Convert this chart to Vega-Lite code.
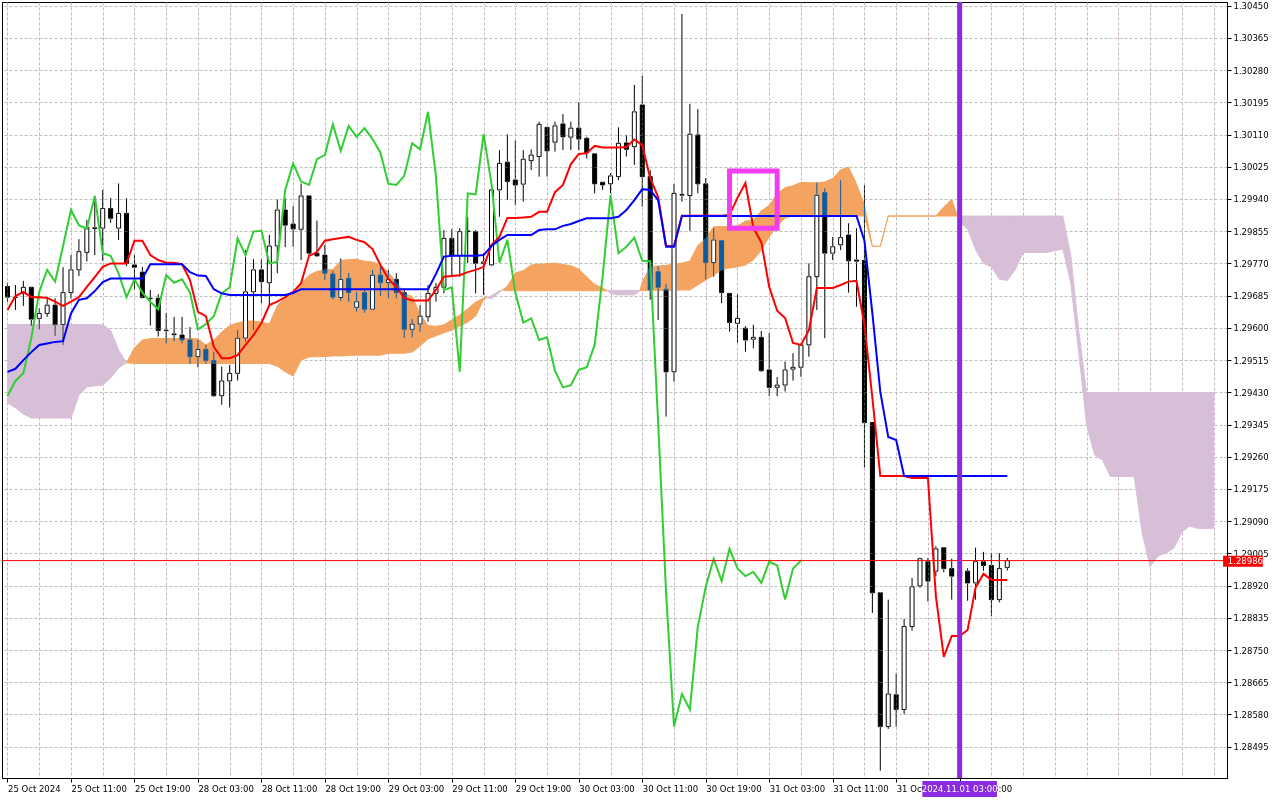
{
  "$schema": "https://vega.github.io/schema/vega-lite/v6.json",
  "description": "GBPUSD H1 candles with Ichimoku Kinko Hyo, 25 Oct - 1 Nov 2024",
  "width": 1225,
  "height": 776,
  "autosize": "none",
  "padding": {"left": 2, "top": 2, "right": 53, "bottom": 22},
  "background": "white",
  "config": {"view": {"stroke": "#000000", "strokeWidth": 1}, "font": "DejaVu Sans"},
  "datasets": {
    "k": [
      {"i":0,"o":1.29709,"h":1.29718,"l":1.29669,"c":1.29681},
      {"i":1,"o":1.29681,"h":1.29713,"l":1.29647,"c":1.29680},
      {"i":2,"o":1.29691,"h":1.29724,"l":1.29658,"c":1.29707},
      {"i":3,"o":1.29707,"h":1.29708,"l":1.29605,"c":1.29623},
      {"i":4,"o":1.29625,"h":1.29652,"l":1.29596,"c":1.29638},
      {"i":5,"o":1.29638,"h":1.29682,"l":1.29629,"c":1.29660},
      {"i":6,"o":1.29660,"h":1.29678,"l":1.29579,"c":1.29608},
      {"i":7,"o":1.29609,"h":1.29760,"l":1.29555,"c":1.29693},
      {"i":8,"o":1.29693,"h":1.29792,"l":1.29678,"c":1.29753},
      {"i":9,"o":1.29753,"h":1.29834,"l":1.29737,"c":1.29801},
      {"i":10,"o":1.29799,"h":1.29885,"l":1.29775,"c":1.29865},
      {"i":11,"o":1.29862,"h":1.29942,"l":1.29792,"c":1.29864},
      {"i":12,"o":1.29863,"h":1.29964,"l":1.29777,"c":1.29915},
      {"i":13,"o":1.29915,"h":1.29943,"l":1.29877,"c":1.29889},
      {"i":14,"o":1.29863,"h":1.29981,"l":1.29832,"c":1.29902},
      {"i":15,"o":1.29902,"h":1.29942,"l":1.29763,"c":1.29770},
      {"i":16,"o":1.29766,"h":1.29792,"l":1.29700,"c":1.29760},
      {"i":17,"o":1.29747,"h":1.29761,"l":1.29678,"c":1.29680},
      {"i":18,"o":1.29678,"h":1.29700,"l":1.29606,"c":1.29677},
      {"i":19,"o":1.29678,"h":1.29689,"l":1.29577,"c":1.29593},
      {"i":20,"o":1.29593,"h":1.29639,"l":1.29559,"c":1.29594},
      {"i":21,"o":1.29584,"h":1.29629,"l":1.29565,"c":1.29582},
      {"i":22,"o":1.29581,"h":1.29629,"l":1.29560,"c":1.29568},
      {"i":23,"o":1.29568,"h":1.29602,"l":1.29505,"c":1.29524},
      {"i":24,"o":1.29524,"h":1.29568,"l":1.29496,"c":1.29543},
      {"i":25,"o":1.29543,"h":1.29555,"l":1.29506,"c":1.29514},
      {"i":26,"o":1.29514,"h":1.29537,"l":1.29418,"c":1.29421},
      {"i":27,"o":1.29421,"h":1.29498,"l":1.29397,"c":1.29460},
      {"i":28,"o":1.29460,"h":1.29502,"l":1.29390,"c":1.29480},
      {"i":29,"o":1.29480,"h":1.29594,"l":1.29461,"c":1.29573},
      {"i":30,"o":1.29573,"h":1.29805,"l":1.29564,"c":1.29695},
      {"i":31,"o":1.29695,"h":1.29781,"l":1.29594,"c":1.29753},
      {"i":32,"o":1.29753,"h":1.29781,"l":1.29665,"c":1.29722},
      {"i":33,"o":1.29719,"h":1.29845,"l":1.29656,"c":1.29816},
      {"i":34,"o":1.29816,"h":1.29939,"l":1.29744,"c":1.29911},
      {"i":35,"o":1.29911,"h":1.29942,"l":1.29813,"c":1.29871},
      {"i":36,"o":1.29874,"h":1.29921,"l":1.29814,"c":1.29861},
      {"i":37,"o":1.29860,"h":1.29981,"l":1.29779,"c":1.29948},
      {"i":38,"o":1.29948,"h":1.29950,"l":1.29788,"c":1.29797},
      {"i":39,"o":1.29797,"h":1.29883,"l":1.29788,"c":1.29790},
      {"i":40,"o":1.29792,"h":1.29819,"l":1.29726,"c":1.29744},
      {"i":41,"o":1.29742,"h":1.29751,"l":1.29675,"c":1.29681},
      {"i":42,"o":1.29680,"h":1.29783,"l":1.29671,"c":1.29728},
      {"i":43,"o":1.29731,"h":1.29745,"l":1.29669,"c":1.29693},
      {"i":44,"o":1.29654,"h":1.29695,"l":1.29643,"c":1.29669},
      {"i":45,"o":1.29693,"h":1.29704,"l":1.29640,"c":1.29649},
      {"i":46,"o":1.29649,"h":1.29753,"l":1.29647,"c":1.29739},
      {"i":47,"o":1.29739,"h":1.29761,"l":1.29684,"c":1.29719},
      {"i":48,"o":1.29719,"h":1.29753,"l":1.29678,"c":1.29728},
      {"i":49,"o":1.29728,"h":1.29744,"l":1.29678,"c":1.29693},
      {"i":50,"o":1.29693,"h":1.29704,"l":1.29573,"c":1.29596},
      {"i":51,"o":1.29596,"h":1.29623,"l":1.29575,"c":1.29610},
      {"i":52,"o":1.29610,"h":1.29660,"l":1.29590,"c":1.29631},
      {"i":53,"o":1.29629,"h":1.29713,"l":1.29616,"c":1.29691},
      {"i":54,"o":1.29691,"h":1.29718,"l":1.29669,"c":1.29707},
      {"i":55,"o":1.29707,"h":1.29858,"l":1.29691,"c":1.29836},
      {"i":56,"o":1.29836,"h":1.29860,"l":1.29735,"c":1.29792},
      {"i":57,"o":1.29790,"h":1.29863,"l":1.29735,"c":1.29854},
      {"i":58,"o":1.29854,"h":1.29893,"l":1.29771,"c":1.29856},
      {"i":59,"o":1.29854,"h":1.29858,"l":1.29691,"c":1.29770},
      {"i":60,"o":1.29770,"h":1.29797,"l":1.29687,"c":1.29774},
      {"i":61,"o":1.29766,"h":1.29990,"l":1.29763,"c":1.29964},
      {"i":62,"o":1.29964,"h":1.30069,"l":1.29893,"c":1.30034},
      {"i":63,"o":1.30037,"h":1.30111,"l":1.29937,"c":1.29986},
      {"i":64,"o":1.29990,"h":1.30094,"l":1.29924,"c":1.29977},
      {"i":65,"o":1.29979,"h":1.30069,"l":1.29933,"c":1.30045},
      {"i":66,"o":1.30041,"h":1.30071,"l":1.30016,"c":1.30056},
      {"i":67,"o":1.30052,"h":1.30144,"l":1.29999,"c":1.30137},
      {"i":68,"o":1.30129,"h":1.30130,"l":1.29999,"c":1.30067},
      {"i":69,"o":1.30090,"h":1.30144,"l":1.30065,"c":1.30133},
      {"i":70,"o":1.30138,"h":1.30164,"l":1.30069,"c":1.30104},
      {"i":71,"o":1.30103,"h":1.30144,"l":1.30069,"c":1.30127},
      {"i":72,"o":1.30127,"h":1.30195,"l":1.30069,"c":1.30098},
      {"i":73,"o":1.30100,"h":1.30104,"l":1.30047,"c":1.30062},
      {"i":74,"o":1.30059,"h":1.30059,"l":1.29955,"c":1.29980},
      {"i":75,"o":1.29984,"h":1.29985,"l":1.29964,"c":1.29977},
      {"i":76,"o":1.29980,"h":1.30008,"l":1.29955,"c":1.30001},
      {"i":77,"o":1.29999,"h":1.30129,"l":1.29990,"c":1.30087},
      {"i":78,"o":1.30088,"h":1.30109,"l":1.30052,"c":1.30071},
      {"i":79,"o":1.30078,"h":1.30241,"l":1.30030,"c":1.30170},
      {"i":80,"o":1.30188,"h":1.30265,"l":1.29920,"c":1.29999},
      {"i":81,"o":1.29999,"h":1.30016,"l":1.29674,"c":1.29700},
      {"i":82,"o":1.29748,"h":1.29763,"l":1.29621,"c":1.29707},
      {"i":83,"o":1.29702,"h":1.29716,"l":1.29366,"c":1.29484},
      {"i":84,"o":1.29484,"h":1.29980,"l":1.29458,"c":1.29955},
      {"i":85,"o":1.29950,"h":1.30428,"l":1.29933,"c":1.29952},
      {"i":86,"o":1.29949,"h":1.30191,"l":1.29856,"c":1.30111},
      {"i":87,"o":1.30109,"h":1.30177,"l":1.29955,"c":1.29980},
      {"i":88,"o":1.29980,"h":1.29995,"l":1.29728,"c":1.29772},
      {"i":89,"o":1.29772,"h":1.29863,"l":1.29735,"c":1.29832},
      {"i":90,"o":1.29830,"h":1.29832,"l":1.29665,"c":1.29693},
      {"i":91,"o":1.29691,"h":1.29692,"l":1.29590,"c":1.29614},
      {"i":92,"o":1.29612,"h":1.29689,"l":1.29561,"c":1.29625},
      {"i":93,"o":1.29599,"h":1.29605,"l":1.29537,"c":1.29568},
      {"i":94,"o":1.29570,"h":1.29608,"l":1.29546,"c":1.29575},
      {"i":95,"o":1.29575,"h":1.29592,"l":1.29484,"c":1.29487},
      {"i":96,"o":1.29489,"h":1.29587,"l":1.29420,"c":1.29443},
      {"i":97,"o":1.29443,"h":1.29470,"l":1.29420,"c":1.29449},
      {"i":98,"o":1.29449,"h":1.29511,"l":1.29432,"c":1.29489},
      {"i":99,"o":1.29491,"h":1.29533,"l":1.29461,"c":1.29496},
      {"i":100,"o":1.29496,"h":1.29559,"l":1.29471,"c":1.29555},
      {"i":101,"o":1.29555,"h":1.29770,"l":1.29524,"c":1.29735},
      {"i":102,"o":1.29735,"h":1.29983,"l":1.29647,"c":1.29950},
      {"i":103,"o":1.29957,"h":1.29968,"l":1.29573,"c":1.29797},
      {"i":104,"o":1.29797,"h":1.29840,"l":1.29779,"c":1.29814},
      {"i":105,"o":1.29819,"h":1.29990,"l":1.29805,"c":1.29838},
      {"i":106,"o":1.29845,"h":1.29876,"l":1.29693,"c":1.29777},
      {"i":107,"o":1.29779,"h":1.29863,"l":1.29656,"c":1.29776},
      {"i":108,"o":1.29778,"h":1.29976,"l":1.29232,"c":1.29350},
      {"i":109,"o":1.29350,"h":1.29350,"l":1.28848,"c":1.28901},
      {"i":110,"o":1.28901,"h":1.28903,"l":1.28432,"c":1.28548},
      {"i":111,"o":1.28548,"h":1.28883,"l":1.28542,"c":1.28634},
      {"i":112,"o":1.28632,"h":1.28688,"l":1.28548,"c":1.28593},
      {"i":113,"o":1.28593,"h":1.28832,"l":1.28581,"c":1.28812},
      {"i":114,"o":1.28812,"h":1.28940,"l":1.28801,"c":1.28917},
      {"i":115,"o":1.28919,"h":1.28994,"l":1.28914,"c":1.28991},
      {"i":116,"o":1.28983,"h":1.28993,"l":1.28878,"c":1.28932},
      {"i":117,"o":1.28958,"h":1.29024,"l":1.28945,"c":1.29017},
      {"i":118,"o":1.29020,"h":1.29022,"l":1.28955,"c":1.28965},
      {"i":119,"o":1.28965,"h":1.28991,"l":1.28883,"c":1.28945},
      {"i":120,"o":1.28945,"h":1.28982,"l":1.28908,"c":1.28956},
      {"i":121,"o":1.28958,"h":1.28966,"l":1.28880,"c":1.28927},
      {"i":122,"o":1.28927,"h":1.29020,"l":1.28883,"c":1.28983},
      {"i":123,"o":1.28983,"h":1.29009,"l":1.28959,"c":1.28973},
      {"i":124,"o":1.28973,"h":1.29006,"l":1.28839,"c":1.28883},
      {"i":125,"o":1.28883,"h":1.29006,"l":1.28876,"c":1.28965},
      {"i":126,"o":1.28968,"h":1.28993,"l":1.28960,"c":1.28986}
    ],
    "ind": [
      {"i":0,"t":1.29647,"k":1.29484,"g":1.29421},
      {"i":1,"t":1.29684,"k":1.29492,"g":1.29460},
      {"i":2,"t":1.29695,"k":1.29515,"g":1.29480},
      {"i":3,"t":1.29681,"k":1.29536,"g":1.29573},
      {"i":4,"t":1.29681,"k":1.29555,"g":1.29695},
      {"i":5,"t":1.29679,"k":1.29559,"g":1.29753},
      {"i":6,"t":1.29669,"k":1.29563,"g":1.29722},
      {"i":7,"t":1.29658,"k":1.29565,"g":1.29816},
      {"i":8,"t":1.29669,"k":1.29638,"g":1.29911},
      {"i":9,"t":1.29681,"k":1.29674,"g":1.29871},
      {"i":10,"t":1.29708,"k":1.29678,"g":1.29861},
      {"i":11,"t":1.29734,"k":1.29697,"g":1.29948},
      {"i":12,"t":1.29761,"k":1.29721,"g":1.29797},
      {"i":13,"t":1.29770,"k":1.29730,"g":1.29790},
      {"i":14,"t":1.29770,"k":1.29730,"g":1.29744},
      {"i":15,"t":1.29770,"k":1.29730,"g":1.29681},
      {"i":16,"t":1.29830,"k":1.29730,"g":1.29728},
      {"i":17,"t":1.29830,"k":1.29730,"g":1.29693},
      {"i":18,"t":1.29792,"k":1.29768,"g":1.29669},
      {"i":19,"t":1.29779,"k":1.29768,"g":1.29649},
      {"i":20,"t":1.29772,"k":1.29768,"g":1.29739},
      {"i":21,"t":1.29772,"k":1.29768,"g":1.29719},
      {"i":22,"t":1.29768,"k":1.29768,"g":1.29728},
      {"i":23,"t":1.29726,"k":1.29747,"g":1.29693},
      {"i":24,"t":1.29642,"k":1.29738,"g":1.29596},
      {"i":25,"t":1.29631,"k":1.29737,"g":1.29610},
      {"i":26,"t":1.29550,"k":1.29702,"g":1.29631},
      {"i":27,"t":1.29520,"k":1.29691,"g":1.29691},
      {"i":28,"t":1.29520,"k":1.29687,"g":1.29707},
      {"i":29,"t":1.29528,"k":1.29687,"g":1.29836},
      {"i":30,"t":1.29555,"k":1.29687,"g":1.29792},
      {"i":31,"t":1.29581,"k":1.29687,"g":1.29854},
      {"i":32,"t":1.29613,"k":1.29687,"g":1.29856},
      {"i":33,"t":1.29660,"k":1.29687,"g":1.29770},
      {"i":34,"t":1.29669,"k":1.29687,"g":1.29774},
      {"i":35,"t":1.29681,"k":1.29687,"g":1.29964},
      {"i":36,"t":1.29695,"k":1.29692,"g":1.30034},
      {"i":37,"t":1.29718,"k":1.29702,"g":1.29986},
      {"i":38,"t":1.29790,"k":1.29702,"g":1.29977},
      {"i":39,"t":1.29800,"k":1.29702,"g":1.30045},
      {"i":40,"t":1.29830,"k":1.29702,"g":1.30056},
      {"i":41,"t":1.29834,"k":1.29702,"g":1.30137},
      {"i":42,"t":1.29837,"k":1.29702,"g":1.30067},
      {"i":43,"t":1.29840,"k":1.29702,"g":1.30133},
      {"i":44,"t":1.29832,"k":1.29702,"g":1.30104},
      {"i":45,"t":1.29826,"k":1.29702,"g":1.30127},
      {"i":46,"t":1.29808,"k":1.29702,"g":1.30098},
      {"i":47,"t":1.29766,"k":1.29702,"g":1.30062},
      {"i":48,"t":1.29729,"k":1.29702,"g":1.29980},
      {"i":49,"t":1.29708,"k":1.29702,"g":1.29977},
      {"i":50,"t":1.29679,"k":1.29702,"g":1.30001},
      {"i":51,"t":1.29672,"k":1.29702,"g":1.30087},
      {"i":52,"t":1.29672,"k":1.29702,"g":1.30071},
      {"i":53,"t":1.29672,"k":1.29702,"g":1.30170},
      {"i":54,"t":1.29700,"k":1.29742,"g":1.29999},
      {"i":55,"t":1.29735,"k":1.29788,"g":1.29700},
      {"i":56,"t":1.29737,"k":1.29790,"g":1.29707},
      {"i":57,"t":1.29739,"k":1.29790,"g":1.29484},
      {"i":58,"t":1.29747,"k":1.29790,"g":1.29955},
      {"i":59,"t":1.29753,"k":1.29790,"g":1.29952},
      {"i":60,"t":1.29761,"k":1.29792,"g":1.30111},
      {"i":61,"t":1.29819,"k":1.29816,"g":1.29980},
      {"i":62,"t":1.29840,"k":1.29832,"g":1.29772},
      {"i":63,"t":1.29890,"k":1.29845,"g":1.29832},
      {"i":64,"t":1.29890,"k":1.29845,"g":1.29693},
      {"i":65,"t":1.29891,"k":1.29845,"g":1.29614},
      {"i":66,"t":1.29893,"k":1.29845,"g":1.29625},
      {"i":67,"t":1.29906,"k":1.29858,"g":1.29568},
      {"i":68,"t":1.29906,"k":1.29860,"g":1.29575},
      {"i":69,"t":1.29958,"k":1.29860,"g":1.29487},
      {"i":70,"t":1.29977,"k":1.29869,"g":1.29443},
      {"i":71,"t":1.30032,"k":1.29874,"g":1.29449},
      {"i":72,"t":1.30059,"k":1.29882,"g":1.29489},
      {"i":73,"t":1.30061,"k":1.29889,"g":1.29496},
      {"i":74,"t":1.30080,"k":1.29889,"g":1.29555},
      {"i":75,"t":1.30076,"k":1.29889,"g":1.29735},
      {"i":76,"t":1.30076,"k":1.29889,"g":1.29950},
      {"i":77,"t":1.30076,"k":1.29893,"g":1.29797},
      {"i":78,"t":1.30077,"k":1.29911,"g":1.29814},
      {"i":79,"t":1.30097,"k":1.29937,"g":1.29838},
      {"i":80,"t":1.30082,"k":1.29966,"g":1.29777},
      {"i":81,"t":1.29995,"k":1.29964,"g":1.29776},
      {"i":82,"t":1.29945,"k":1.29937,"g":1.29350},
      {"i":83,"t":1.29816,"k":1.29814,"g":1.28901},
      {"i":84,"t":1.29816,"k":1.29814,"g":1.28548},
      {"i":85,"t":1.29896,"k":1.29895,"g":1.28634},
      {"i":86,"t":1.29896,"k":1.29895,"g":1.28593},
      {"i":87,"t":1.29896,"k":1.29895,"g":1.28812},
      {"i":88,"t":1.29896,"k":1.29895,"g":1.28917},
      {"i":89,"t":1.29896,"k":1.29895,"g":1.28991},
      {"i":90,"t":1.29896,"k":1.29895,"g":1.28932},
      {"i":91,"t":1.29898,"k":1.29895,"g":1.29017},
      {"i":92,"t":1.29943,"k":1.29895,"g":1.28965},
      {"i":93,"t":1.29982,"k":1.29895,"g":1.28945},
      {"i":94,"t":1.29864,"k":1.29895,"g":1.28956},
      {"i":95,"t":1.29826,"k":1.29895,"g":1.28927},
      {"i":96,"t":1.29708,"k":1.29895,"g":1.28983},
      {"i":97,"t":1.29645,"k":1.29895,"g":1.28973},
      {"i":98,"t":1.29626,"k":1.29895,"g":1.28883},
      {"i":99,"t":1.29560,"k":1.29895,"g":1.28965},
      {"i":100,"t":1.29555,"k":1.29895,"g":1.28986},
      {"i":101,"t":1.29594,"k":1.29895},
      {"i":102,"t":1.29705,"k":1.29895},
      {"i":103,"t":1.29705,"k":1.29895},
      {"i":104,"t":1.29705,"k":1.29895},
      {"i":105,"t":1.29713,"k":1.29895},
      {"i":106,"t":1.29722,"k":1.29895},
      {"i":107,"t":1.29724,"k":1.29895},
      {"i":108,"t":1.29608,"k":1.29830},
      {"i":109,"t":1.29415,"k":1.29638},
      {"i":110,"t":1.29209,"k":1.29431},
      {"i":111,"t":1.29209,"k":1.29312},
      {"i":112,"t":1.29209,"k":1.29304},
      {"i":113,"t":1.29209,"k":1.29209},
      {"i":114,"t":1.29204,"k":1.29209},
      {"i":115,"t":1.29204,"k":1.29209},
      {"i":116,"t":1.29204,"k":1.29209},
      {"i":117,"t":1.28893,"k":1.29209},
      {"i":118,"t":1.28732,"k":1.29209},
      {"i":119,"t":1.28787,"k":1.29209},
      {"i":120,"t":1.28787,"k":1.29209},
      {"i":121,"t":1.28803,"k":1.29209},
      {"i":122,"t":1.28914,"k":1.29209},
      {"i":123,"t":1.28951,"k":1.29209},
      {"i":124,"t":1.28935,"k":1.29209},
      {"i":125,"t":1.28935,"k":1.29209},
      {"i":126,"t":1.28935,"k":1.29209}
    ],
    "cl": [
      {"i":0,"a":1.29402,"b":1.29609,"s":1,"d":"dn"},
      {"i":1,"a":1.29389,"b":1.29609,"s":1,"d":"dn"},
      {"i":2,"a":1.29373,"b":1.29609,"s":1,"d":"dn"},
      {"i":3,"a":1.29362,"b":1.29609,"s":1,"d":"dn"},
      {"i":4,"a":1.29362,"b":1.29609,"s":1,"d":"dn"},
      {"i":5,"a":1.29362,"b":1.29609,"s":1,"d":"dn"},
      {"i":6,"a":1.29362,"b":1.29609,"s":1,"d":"dn"},
      {"i":7,"a":1.29362,"b":1.29609,"s":1,"d":"dn"},
      {"i":8,"a":1.29362,"b":1.29609,"s":1,"d":"dn"},
      {"i":9,"a":1.29423,"b":1.29609,"s":1,"d":"dn"},
      {"i":10,"a":1.29444,"b":1.29609,"s":1,"d":"dn"},
      {"i":11,"a":1.29447,"b":1.29609,"s":1,"d":"dn"},
      {"i":12,"a":1.29449,"b":1.29608,"s":1,"d":"dn"},
      {"i":13,"a":1.29468,"b":1.29594,"s":1,"d":"dn"},
      {"i":14,"a":1.29494,"b":1.29542,"s":1,"d":"dn"},
      {"i":15,"a":1.29508,"b":1.29508,"s":1,"d":"dn"},
      {"i":15,"a":1.29508,"b":1.29508,"s":2,"d":"up"},
      {"i":16,"a":1.29547,"b":1.29506,"s":2,"d":"up"},
      {"i":17,"a":1.29568,"b":1.29506,"s":2,"d":"up"},
      {"i":18,"a":1.29572,"b":1.29506,"s":2,"d":"up"},
      {"i":19,"a":1.29572,"b":1.29506,"s":2,"d":"up"},
      {"i":20,"a":1.29572,"b":1.29506,"s":2,"d":"up"},
      {"i":21,"a":1.29572,"b":1.29506,"s":2,"d":"up"},
      {"i":22,"a":1.29572,"b":1.29506,"s":2,"d":"up"},
      {"i":23,"a":1.29572,"b":1.29506,"s":2,"d":"up"},
      {"i":24,"a":1.29571,"b":1.29506,"s":2,"d":"up"},
      {"i":25,"a":1.29555,"b":1.29506,"s":2,"d":"up"},
      {"i":26,"a":1.29568,"b":1.29506,"s":2,"d":"up"},
      {"i":27,"a":1.29589,"b":1.29506,"s":2,"d":"up"},
      {"i":28,"a":1.29606,"b":1.29506,"s":2,"d":"up"},
      {"i":29,"a":1.29613,"b":1.29506,"s":2,"d":"up"},
      {"i":30,"a":1.29618,"b":1.29506,"s":2,"d":"up"},
      {"i":31,"a":1.29618,"b":1.29506,"s":2,"d":"up"},
      {"i":32,"a":1.29615,"b":1.29506,"s":2,"d":"up"},
      {"i":33,"a":1.29610,"b":1.29506,"s":2,"d":"up"},
      {"i":34,"a":1.29658,"b":1.29499,"s":2,"d":"up"},
      {"i":35,"a":1.29679,"b":1.29484,"s":2,"d":"up"},
      {"i":36,"a":1.29692,"b":1.29473,"s":2,"d":"up"},
      {"i":37,"a":1.29716,"b":1.29515,"s":2,"d":"up"},
      {"i":38,"a":1.29739,"b":1.29523,"s":2,"d":"up"},
      {"i":39,"a":1.29749,"b":1.29524,"s":2,"d":"up"},
      {"i":40,"a":1.29753,"b":1.29524,"s":2,"d":"up"},
      {"i":41,"a":1.29754,"b":1.29526,"s":2,"d":"up"},
      {"i":42,"a":1.29778,"b":1.29526,"s":2,"d":"up"},
      {"i":43,"a":1.29780,"b":1.29527,"s":2,"d":"up"},
      {"i":44,"a":1.29781,"b":1.29528,"s":2,"d":"up"},
      {"i":45,"a":1.29776,"b":1.29528,"s":2,"d":"up"},
      {"i":46,"a":1.29774,"b":1.29528,"s":2,"d":"up"},
      {"i":47,"a":1.29766,"b":1.29528,"s":2,"d":"up"},
      {"i":48,"a":1.29747,"b":1.29533,"s":2,"d":"up"},
      {"i":49,"a":1.29721,"b":1.29533,"s":2,"d":"up"},
      {"i":50,"a":1.29691,"b":1.29533,"s":2,"d":"up"},
      {"i":51,"a":1.29683,"b":1.29536,"s":2,"d":"up"},
      {"i":52,"a":1.29637,"b":1.29552,"s":2,"d":"up"},
      {"i":53,"a":1.29606,"b":1.29571,"s":2,"d":"up"},
      {"i":54,"a":1.29604,"b":1.29579,"s":2,"d":"up"},
      {"i":55,"a":1.29608,"b":1.29587,"s":2,"d":"up"},
      {"i":56,"a":1.29621,"b":1.29594,"s":2,"d":"up"},
      {"i":57,"a":1.29634,"b":1.29605,"s":2,"d":"up"},
      {"i":58,"a":1.29650,"b":1.29615,"s":2,"d":"up"},
      {"i":59,"a":1.29668,"b":1.29631,"s":2,"d":"up"},
      {"i":60,"a":1.29679,"b":1.29674,"s":2,"d":"up"},
      {"i":60.4,"a":1.29680,"b":1.29680,"s":2,"d":"up"},
      {"i":60.4,"a":1.29680,"b":1.29680,"s":3,"d":"dn"},
      {"i":61,"a":1.29677,"b":1.29685,"s":3,"d":"dn"},
      {"i":62,"a":1.29693,"b":1.29698,"s":3,"d":"dn"},
      {"i":62.4,"a":1.29700,"b":1.29700,"s":3,"d":"dn"},
      {"i":62.4,"a":1.29700,"b":1.29700,"s":4,"d":"up"},
      {"i":63,"a":1.29710,"b":1.29698,"s":4,"d":"up"},
      {"i":64,"a":1.29745,"b":1.29698,"s":4,"d":"up"},
      {"i":65,"a":1.29751,"b":1.29698,"s":4,"d":"up"},
      {"i":66,"a":1.29766,"b":1.29698,"s":4,"d":"up"},
      {"i":67,"a":1.29768,"b":1.29698,"s":4,"d":"up"},
      {"i":68,"a":1.29769,"b":1.29698,"s":4,"d":"up"},
      {"i":69,"a":1.29771,"b":1.29698,"s":4,"d":"up"},
      {"i":70,"a":1.29767,"b":1.29698,"s":4,"d":"up"},
      {"i":71,"a":1.29764,"b":1.29698,"s":4,"d":"up"},
      {"i":72,"a":1.29755,"b":1.29698,"s":4,"d":"up"},
      {"i":73,"a":1.29734,"b":1.29698,"s":4,"d":"up"},
      {"i":74,"a":1.29715,"b":1.29698,"s":4,"d":"up"},
      {"i":75,"a":1.29705,"b":1.29698,"s":4,"d":"up"},
      {"i":75.6,"a":1.29698,"b":1.29698,"s":4,"d":"up"},
      {"i":75.6,"a":1.29698,"b":1.29698,"s":5,"d":"dn"},
      {"i":76,"a":1.29690,"b":1.29699,"s":5,"d":"dn"},
      {"i":77,"a":1.29687,"b":1.29699,"s":5,"d":"dn"},
      {"i":78,"a":1.29687,"b":1.29699,"s":5,"d":"dn"},
      {"i":79,"a":1.29687,"b":1.29699,"s":5,"d":"dn"},
      {"i":79.7,"a":1.29698,"b":1.29698,"s":5,"d":"dn"},
      {"i":79.7,"a":1.29698,"b":1.29698,"s":6,"d":"up"},
      {"i":80,"a":1.29721,"b":1.29698,"s":6,"d":"up"},
      {"i":81,"a":1.29761,"b":1.29699,"s":6,"d":"up"},
      {"i":82,"a":1.29763,"b":1.29699,"s":6,"d":"up"},
      {"i":83,"a":1.29765,"b":1.29699,"s":6,"d":"up"},
      {"i":84,"a":1.29768,"b":1.29699,"s":6,"d":"up"},
      {"i":85,"a":1.29771,"b":1.29700,"s":6,"d":"up"},
      {"i":86,"a":1.29776,"b":1.29700,"s":6,"d":"up"},
      {"i":87,"a":1.29817,"b":1.29713,"s":6,"d":"up"},
      {"i":88,"a":1.29836,"b":1.29726,"s":6,"d":"up"},
      {"i":89,"a":1.29867,"b":1.29739,"s":6,"d":"up"},
      {"i":90,"a":1.29867,"b":1.29753,"s":6,"d":"up"},
      {"i":91,"a":1.29868,"b":1.29758,"s":6,"d":"up"},
      {"i":92,"a":1.29869,"b":1.29761,"s":6,"d":"up"},
      {"i":93,"a":1.29882,"b":1.29766,"s":6,"d":"up"},
      {"i":94,"a":1.29883,"b":1.29779,"s":6,"d":"up"},
      {"i":95,"a":1.29909,"b":1.29805,"s":6,"d":"up"},
      {"i":96,"a":1.29923,"b":1.29840,"s":6,"d":"up"},
      {"i":97,"a":1.29953,"b":1.29869,"s":6,"d":"up"},
      {"i":98,"a":1.29970,"b":1.29890,"s":6,"d":"up"},
      {"i":99,"a":1.29975,"b":1.29895,"s":6,"d":"up"},
      {"i":100,"a":1.29984,"b":1.29895,"s":6,"d":"up"},
      {"i":101,"a":1.29983,"b":1.29895,"s":6,"d":"up"},
      {"i":102,"a":1.29983,"b":1.29895,"s":6,"d":"up"},
      {"i":103,"a":1.29985,"b":1.29895,"s":6,"d":"up"},
      {"i":104,"a":1.29994,"b":1.29895,"s":6,"d":"up"},
      {"i":105,"a":1.30017,"b":1.29895,"s":6,"d":"up"},
      {"i":106,"a":1.30024,"b":1.29895,"s":6,"d":"up"},
      {"i":107,"a":1.29980,"b":1.29895,"s":6,"d":"up"},
      {"i":108,"a":1.29924,"b":1.29895,"s":6,"d":"up"},
      {"i":109,"a":1.29815,"b":1.29815,"s":6,"d":"up"},
      {"i":110,"a":1.29815,"b":1.29815,"s":6,"d":"up"},
      {"i":111,"a":1.29895,"b":1.29895,"s":6,"d":"up"},
      {"i":112,"a":1.29895,"b":1.29895,"s":6,"d":"up"},
      {"i":113,"a":1.29895,"b":1.29895,"s":6,"d":"up"},
      {"i":114,"a":1.29895,"b":1.29895,"s":6,"d":"up"},
      {"i":115,"a":1.29895,"b":1.29895,"s":6,"d":"up"},
      {"i":116,"a":1.29895,"b":1.29895,"s":6,"d":"up"},
      {"i":117,"a":1.29895,"b":1.29895,"s":6,"d":"up"},
      {"i":118,"a":1.29919,"b":1.29895,"s":6,"d":"up"},
      {"i":119,"a":1.29939,"b":1.29895,"s":6,"d":"up"},
      {"i":119.7,"a":1.29895,"b":1.29895,"s":6,"d":"up"},
      {"i":119.7,"a":1.29895,"b":1.29895,"s":7,"d":"dn"},
      {"i":120,"a":1.29879,"b":1.29895,"s":7,"d":"dn"},
      {"i":121,"a":1.29861,"b":1.29895,"s":7,"d":"dn"},
      {"i":122,"a":1.29807,"b":1.29895,"s":7,"d":"dn"},
      {"i":123,"a":1.29770,"b":1.29895,"s":7,"d":"dn"},
      {"i":124,"a":1.29761,"b":1.29895,"s":7,"d":"dn"},
      {"i":125,"a":1.29728,"b":1.29895,"s":7,"d":"dn"},
      {"i":126,"a":1.29725,"b":1.29895,"s":7,"d":"dn"},
      {"i":127,"a":1.29753,"b":1.29895,"s":7,"d":"dn"},
      {"i":128,"a":1.29799,"b":1.29895,"s":7,"d":"dn"},
      {"i":129,"a":1.29799,"b":1.29895,"s":7,"d":"dn"},
      {"i":130,"a":1.29799,"b":1.29895,"s":7,"d":"dn"},
      {"i":131,"a":1.29799,"b":1.29895,"s":7,"d":"dn"},
      {"i":132,"a":1.29804,"b":1.29895,"s":7,"d":"dn"},
      {"i":133,"a":1.29808,"b":1.29895,"s":7,"d":"dn"},
      {"i":134,"a":1.29719,"b":1.29792,"s":7,"d":"dn"},
      {"i":135,"a":1.29536,"b":1.29594,"s":7,"d":"dn"},
      {"i":136,"a":1.29344,"b":1.29429,"s":7,"d":"dn"},
      {"i":137,"a":1.29265,"b":1.29429,"s":7,"d":"dn"},
      {"i":138,"a":1.29251,"b":1.29429,"s":7,"d":"dn"},
      {"i":139,"a":1.29208,"b":1.29429,"s":7,"d":"dn"},
      {"i":140,"a":1.29208,"b":1.29429,"s":7,"d":"dn"},
      {"i":141,"a":1.29208,"b":1.29429,"s":7,"d":"dn"},
      {"i":142,"a":1.29208,"b":1.29429,"s":7,"d":"dn"},
      {"i":143,"a":1.29059,"b":1.29429,"s":7,"d":"dn"},
      {"i":144,"a":1.28970,"b":1.29429,"s":7,"d":"dn"},
      {"i":145,"a":1.28998,"b":1.29429,"s":7,"d":"dn"},
      {"i":146,"a":1.29006,"b":1.29429,"s":7,"d":"dn"},
      {"i":147,"a":1.29019,"b":1.29429,"s":7,"d":"dn"},
      {"i":148,"a":1.29061,"b":1.29429,"s":7,"d":"dn"},
      {"i":149,"a":1.29077,"b":1.29429,"s":7,"d":"dn"},
      {"i":150,"a":1.29071,"b":1.29429,"s":7,"d":"dn"},
      {"i":151,"a":1.29071,"b":1.29429,"s":7,"d":"dn"},
      {"i":152,"a":1.29071,"b":1.29429,"s":7,"d":"dn"}
    ]
  },
  "layer": [
    {
      "data": {"name": "cl"},
      "mark": {"type": "area", "strokeWidth": 1, "interpolate": "linear"},
      "encoding": {
        "x": {
          "field": "i", "type": "quantitative",
          "scale": {"domain": [-0.0625, 153.0625], "nice": false, "zero": false},
          "axis": {
            "title": null,
            "values": [0,4,8,12,16,20,24,28,32,36,40,44,48,52,56,60,64,68,72,76,80,84,88,92,96,100,104,108,112,116,120,124,128,132,136,140,144,148,152],
            "tickCount": 100,
            "grid": true, "gridColor": "#c8b2c8", "gridDash": [3, 2], "gridWidth": 1,
            "domain": true, "domainColor": "#000000",
            "tickSize": 4,
            "tickColor": {"condition": {"test": "datum.value % 8 === 0 && datum.value <= 120", "value": "#000000"}, "value": "transparent"},
            "labelExpr": "datum.value % 8 === 0 && datum.value <= 120 ? ['25 Oct 2024','25 Oct 11:00','25 Oct 19:00','28 Oct 03:00','28 Oct 11:00','28 Oct 19:00','29 Oct 03:00','29 Oct 11:00','29 Oct 19:00','30 Oct 03:00','30 Oct 11:00','30 Oct 19:00','31 Oct 03:00','31 Oct 11:00','31 Oct 19:00','1 Nov 03:00'][datum.value / 8] : ''",
            "labelAlign": "left", "labelBaseline": "top", "labelPadding": 2,
            "labelFont": "DejaVu Sans", "labelFontSize": 8.5, "labelColor": "#000000",
            "labelOverlap": false, "labelFlush": false, "labelBound": false
          }
        },
        "y": {
          "field": "a", "type": "quantitative", "stack": null,
          "scale": {"domain": [1.284124, 1.304597], "nice": false, "zero": false},
          "axis": {
            "title": null, "orient": "right",
            "values": [1.3045,1.30365,1.3028,1.30195,1.3011,1.30025,1.2994,1.29855,1.2977,1.29685,1.296,1.29515,1.2943,1.29345,1.2926,1.29175,1.2909,1.29005,1.2892,1.28835,1.2875,1.28665,1.2858,1.28495],
            "tickCount": 100,
            "format": ".5f",
            "grid": true, "gridColor": "#b6c2b6", "gridDash": [3, 2], "gridWidth": 1,
            "domain": true, "domainColor": "#000000",
            "tickSize": 4, "tickColor": "#000000",
            "labelAlign": "left", "labelBaseline": "middle", "labelPadding": 2,
            "labelFont": "DejaVu Sans", "labelFontSize": 8.5, "labelColor": "#000000",
            "labelOverlap": false, "labelFlush": false, "labelBound": false
          }
        },
        "y2": {"field": "b"},
        "color": {"field": "d", "type": "nominal", "scale": {"domain": ["up", "dn"], "range": ["#f4a460", "#d8bfd8"]}, "legend": null},
        "stroke": {"field": "d", "type": "nominal", "scale": {"domain": ["up", "dn"], "range": ["#f4a460", "#d8bfd8"]}, "legend": null},
        "detail": {"field": "s", "type": "nominal"}
      }
    },
    {
      "data": {"name": "k"},
      "transform": [{"filter": "datum.c < datum.o"}],
      "mark": {"type": "rule", "color": "#ffffff", "strokeWidth": 1, "blend": "difference"},
      "encoding": {
        "x": {"field": "i", "type": "quantitative", "scale": {"domain": [-0.0625, 153.0625], "nice": false, "zero": false}, "axis": {"title": null}},
        "y": {"field": "h", "type": "quantitative", "scale": {"domain": [1.284124, 1.304597], "nice": false, "zero": false}, "axis": {"title": null, "orient": "right"}},
        "y2": {"field": "o"}
      }
    },
    {
      "data": {"name": "k"},
      "transform": [{"filter": "datum.c < datum.o"}],
      "mark": {"type": "rule", "color": "#ffffff", "strokeWidth": 1, "blend": "difference"},
      "encoding": {
        "x": {"field": "i", "type": "quantitative", "scale": {"domain": [-0.0625, 153.0625], "nice": false, "zero": false}, "axis": {"title": null}},
        "y": {"field": "c", "type": "quantitative", "scale": {"domain": [1.284124, 1.304597], "nice": false, "zero": false}, "axis": {"title": null, "orient": "right"}},
        "y2": {"field": "l"}
      }
    },
    {
      "data": {"name": "k"},
      "transform": [{"filter": "datum.c < datum.o"}],
      "mark": {"type": "bar", "width": 4, "fill": "#ffffff", "stroke": "#ffffff", "strokeWidth": 1, "blend": "difference"},
      "encoding": {
        "x": {"field": "i", "type": "quantitative", "scale": {"domain": [-0.0625, 153.0625], "nice": false, "zero": false}, "axis": {"title": null}},
        "y": {"field": "o", "type": "quantitative", "scale": {"domain": [1.284124, 1.304597], "nice": false, "zero": false}, "axis": {"title": null, "orient": "right"}},
        "y2": {"field": "c"}
      }
    },
    {
      "data": {"name": "k"},
      "transform": [{"filter": "datum.c >= datum.o"}],
      "mark": {"type": "rule", "color": "#ffffff", "strokeWidth": 1, "blend": "difference"},
      "encoding": {
        "x": {"field": "i", "type": "quantitative", "scale": {"domain": [-0.0625, 153.0625], "nice": false, "zero": false}, "axis": {"title": null}},
        "y": {"field": "h", "type": "quantitative", "scale": {"domain": [1.284124, 1.304597], "nice": false, "zero": false}, "axis": {"title": null, "orient": "right"}},
        "y2": {"field": "c"}
      }
    },
    {
      "data": {"name": "k"},
      "transform": [{"filter": "datum.c >= datum.o"}],
      "mark": {"type": "rule", "color": "#ffffff", "strokeWidth": 1, "blend": "difference"},
      "encoding": {
        "x": {"field": "i", "type": "quantitative", "scale": {"domain": [-0.0625, 153.0625], "nice": false, "zero": false}, "axis": {"title": null}},
        "y": {"field": "o", "type": "quantitative", "scale": {"domain": [1.284124, 1.304597], "nice": false, "zero": false}, "axis": {"title": null, "orient": "right"}},
        "y2": {"field": "l"}
      }
    },
    {
      "data": {"name": "k"},
      "transform": [{"filter": "datum.c >= datum.o"}],
      "mark": {"type": "bar", "width": 4, "fill": "#ffffff", "strokeWidth": 0},
      "encoding": {
        "x": {"field": "i", "type": "quantitative", "scale": {"domain": [-0.0625, 153.0625], "nice": false, "zero": false}, "axis": {"title": null}},
        "y": {"field": "o", "type": "quantitative", "scale": {"domain": [1.284124, 1.304597], "nice": false, "zero": false}, "axis": {"title": null, "orient": "right"}},
        "y2": {"field": "c"}
      }
    },
    {
      "data": {"name": "k"},
      "transform": [{"filter": "datum.c >= datum.o"}],
      "mark": {"type": "bar", "width": 4, "fill": "#ffffff", "fillOpacity": 0, "stroke": "#ffffff", "strokeWidth": 1, "blend": "difference"},
      "encoding": {
        "x": {"field": "i", "type": "quantitative", "scale": {"domain": [-0.0625, 153.0625], "nice": false, "zero": false}, "axis": {"title": null}},
        "y": {"field": "o", "type": "quantitative", "scale": {"domain": [1.284124, 1.304597], "nice": false, "zero": false}, "axis": {"title": null, "orient": "right"}},
        "y2": {"field": "c"}
      }
    },
    {
      "data": {"name": "ind"},
      "mark": {"type": "line", "color": "#32cd32", "strokeWidth": 2, "interpolate": "linear"},
      "encoding": {
        "x": {"field": "i", "type": "quantitative", "scale": {"domain": [-0.0625, 153.0625], "nice": false, "zero": false}, "axis": {"title": null}},
        "y": {"field": "g", "type": "quantitative", "scale": {"domain": [1.284124, 1.304597], "nice": false, "zero": false}, "axis": {"title": null, "orient": "right"}}
      }
    },
    {
      "data": {"name": "ind"},
      "mark": {"type": "line", "color": "#ff0000", "strokeWidth": 2, "interpolate": "linear"},
      "encoding": {
        "x": {"field": "i", "type": "quantitative", "scale": {"domain": [-0.0625, 153.0625], "nice": false, "zero": false}, "axis": {"title": null}},
        "y": {"field": "t", "type": "quantitative", "scale": {"domain": [1.284124, 1.304597], "nice": false, "zero": false}, "axis": {"title": null, "orient": "right"}}
      }
    },
    {
      "data": {"name": "ind"},
      "mark": {"type": "line", "color": "#0000ff", "strokeWidth": 2, "interpolate": "linear"},
      "encoding": {
        "x": {"field": "i", "type": "quantitative", "scale": {"domain": [-0.0625, 153.0625], "nice": false, "zero": false}, "axis": {"title": null}},
        "y": {"field": "k", "type": "quantitative", "scale": {"domain": [1.284124, 1.304597], "nice": false, "zero": false}, "axis": {"title": null, "orient": "right"}}
      }
    },
    {
      "data": {"values": [{}]},
      "mark": {"type": "rule", "color": "#ff0000", "strokeWidth": 1},
      "encoding": {
        "y": {"datum": 1.28986, "type": "quantitative", "scale": {"domain": [1.284124, 1.304597], "nice": false, "zero": false}, "axis": {"title": null, "orient": "right"}}
      }
    },
    {
      "data": {"values": [{}]},
      "mark": {"type": "rule", "color": "#8a2be2", "strokeWidth": 5},
      "encoding": {
        "x": {"datum": 120, "type": "quantitative", "scale": {"domain": [-0.0625, 153.0625], "nice": false, "zero": false}, "axis": {"title": null}}
      }
    },
    {
      "data": {"values": [{}]},
      "mark": {"type": "rect", "fillOpacity": 0, "stroke": "#f23cf2", "strokeWidth": 5},
      "encoding": {
        "x": {"datum": 91.0, "type": "quantitative", "scale": {"domain": [-0.0625, 153.0625], "nice": false, "zero": false}, "axis": {"title": null}},
        "x2": {"datum": 97.0},
        "y": {"datum": 1.30014, "type": "quantitative", "scale": {"domain": [1.284124, 1.304597], "nice": false, "zero": false}, "axis": {"title": null, "orient": "right"}},
        "y2": {"datum": 1.29863}
      }
    },
    {
      "data": {"values": [{}]},
      "mark": {"type": "rect", "fill": "#8a2be2"},
      "encoding": {
        "x": {"datum": 115.3, "type": "quantitative", "scale": {"domain": [-0.0625, 153.0625], "nice": false, "zero": false}, "axis": {"title": null}},
        "x2": {"datum": 124.7},
        "y": {"datum": 1.284045, "type": "quantitative", "scale": {"domain": [1.284124, 1.304597], "nice": false, "zero": false}, "axis": {"title": null, "orient": "right"}},
        "y2": {"datum": 1.28362}
      }
    },
    {
      "data": {"values": [{}]},
      "mark": {"type": "text", "text": "2024.11.01 03:00", "color": "#ffffff", "font": "DejaVu Sans", "fontSize": 8.5, "align": "center", "baseline": "middle"},
      "encoding": {
        "x": {"datum": 120, "type": "quantitative", "scale": {"domain": [-0.0625, 153.0625], "nice": false, "zero": false}, "axis": {"title": null}},
        "y": {"datum": 1.28383, "type": "quantitative", "scale": {"domain": [1.284124, 1.304597], "nice": false, "zero": false}, "axis": {"title": null, "orient": "right"}}
      }
    },
    {
      "data": {"values": [{}]},
      "mark": {"type": "rect", "fill": "#ff0000"},
      "encoding": {
        "x": {"datum": 153.2, "type": "quantitative", "scale": {"domain": [-0.0625, 153.0625], "nice": false, "zero": false}, "axis": {"title": null}},
        "x2": {"datum": 158.2},
        "y": {"datum": 1.28999, "type": "quantitative", "scale": {"domain": [1.284124, 1.304597], "nice": false, "zero": false}, "axis": {"title": null, "orient": "right"}},
        "y2": {"datum": 1.2897}
      }
    },
    {
      "data": {"values": [{}]},
      "mark": {"type": "text", "text": "1.28986", "color": "#ffffff", "font": "DejaVu Sans", "fontSize": 8.5, "align": "left", "baseline": "middle"},
      "encoding": {
        "x": {"datum": 153.8, "type": "quantitative", "scale": {"domain": [-0.0625, 153.0625], "nice": false, "zero": false}, "axis": {"title": null}},
        "y": {"datum": 1.28985, "type": "quantitative", "scale": {"domain": [1.284124, 1.304597], "nice": false, "zero": false}, "axis": {"title": null, "orient": "right"}}
      }
    }
  ]
}
